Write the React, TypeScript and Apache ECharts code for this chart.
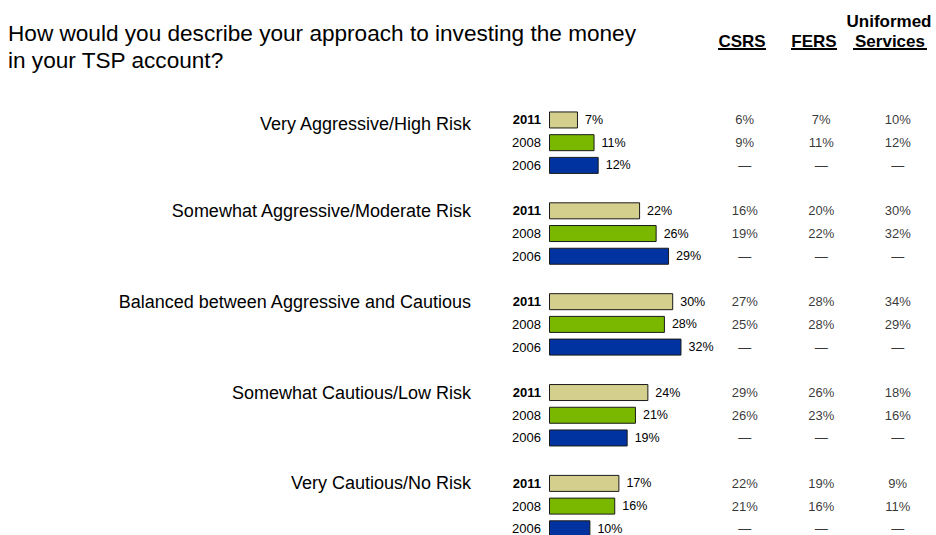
import React, { useEffect, useRef } from "react";
import * as echarts from "echarts";

const FONT = "'Liberation Sans', Arial, Helvetica, sans-serif";

const groups = [
  "Very Aggressive/High Risk",
  "Somewhat Aggressive/Moderate Risk",
  "Balanced between Aggressive and Cautious",
  "Somewhat Cautious/Low Risk",
  "Very Cautious/No Risk",
];
const years = ["2011", "2008", "2006"];

const total2011 = [7, 22, 30, 24, 17];
const total2008 = [11, 26, 28, 21, 16];
const total2006 = [12, 29, 32, 19, 10];

const columns = ["CSRS", "FERS", "Uniformed Services"];
const csrs2011 = [6, 16, 27, 29, 22];
const csrs2008 = [9, 19, 25, 26, 21];
const fers2011 = [7, 20, 28, 26, 19];
const fers2008 = [11, 22, 28, 23, 16];
const us2011 = [10, 30, 34, 18, 9];
const us2008 = [12, 32, 29, 16, 11];

const yearColors: Record<string, string> = {
  "2011": "#D5CF8E",
  "2008": "#7AB800",
  "2006": "#0033A0",
};

// Build row keys: 3 year rows + 1 gap row per group
const rowKeys: string[] = [];
groups.forEach((_, gi) => {
  years.forEach((y) => rowKeys.push(`${gi}-${y}`));
  rowKeys.push(`${gi}-gap`);
});

const barValues: Record<string, number[]> = {
  "2011": total2011,
  "2008": total2008,
  "2006": total2006,
};

function barData(year: string) {
  return rowKeys.map((k) => {
    const [gi, y] = k.split("-");
    if (y !== year) return "-";
    return barValues[year][Number(gi)];
  });
}

function tableData(col: number, v2011: number[], v2008: number[]) {
  const out: any[] = [];
  rowKeys.forEach((k, ri) => {
    const [gi, y] = k.split("-");
    const g = Number(gi);
    if (y === "2011") out.push([col, ri, `${v2011[g]}%`]);
    else if (y === "2008") out.push([col, ri, `${v2008[g]}%`]);
    else if (y === "2006") out.push([col, ri, "\u2014"]);
  });
  return out;
}

export default function App() {
  const ref = useRef<HTMLDivElement>(null);
  useEffect(() => {
    if (!ref.current) return;
    const chart = echarts.init(ref.current, null, { renderer: "svg" });
    const gridTop = 108.6;
    const gridHeight = 454.3;

    const catAxisBase = {
      type: "category",
      data: rowKeys,
      inverse: true,
      axisLine: { show: false },
      axisTick: { show: false },
      splitLine: { show: false },
    };

    const option: any = {
      animation: false,
      backgroundColor: "#ffffff",
      title: {
        text: "How would you describe your approach to investing the money\nin your TSP account?",
        left: 8,
        top: 20,
        padding: 0,
        textStyle: {
          fontFamily: FONT,
          fontSize: 22.6,
          fontWeight: "normal",
          color: "#000",
          lineHeight: 27,
        },
      },
      grid: [
        { left: 549, top: gridTop, width: 165.6, height: gridHeight },
        { left: 706.5, top: gridTop, width: 237, height: gridHeight },
      ],
      xAxis: [
        { type: "value", gridIndex: 0, min: 0, max: 40, show: false },
        { type: "category", gridIndex: 1, data: columns, show: false },
      ],
      yAxis: [
        {
          ...catAxisBase,
          gridIndex: 0,
          position: "left",
          axisLabel: {
            margin: 8,
            fontFamily: FONT,
            fontSize: 13,
            color: "#000",
            textBorderWidth: 0,
            formatter: (val: string) => {
              const y = val.split("-")[1];
              if (y === "gap") return "";
              if (y === "2011") return "{b|2011}";
              return y;
            },
            rich: {
              b: { fontFamily: FONT, fontSize: 13, fontWeight: "bold", color: "#000" },
            },
          },
        },
        {
          ...catAxisBase,
          gridIndex: 0,
          position: "left",
          offset: 70,
          axisLabel: {
            margin: 8,
            fontFamily: FONT,
            fontSize: 18,
            color: "#000",
            formatter: (val: string) => {
              const [gi, y] = val.split("-");
              if (y !== "2011") return "";
              return Number(gi) === 0 ? `{d|${groups[0]}}` : groups[Number(gi)];
            },
            rich: {
              d: { fontFamily: FONT, fontSize: 18, color: "#000", padding: [8, 0, 0, 0] },
            },
          },
        },
        {
          ...catAxisBase,
          gridIndex: 1,
          show: false,
        },
      ],
      series: [
        ...years.map((y) => ({
          type: "bar",
          name: y,
          xAxisIndex: 0,
          yAxisIndex: 0,
          data: barData(y),
          barWidth: 17,
          barGap: "-100%",
          silent: true,
          itemStyle: { color: yearColors[y], borderColor: "#1a1a1a", borderWidth: 1 },
          label: {
            show: true,
            position: "right",
            distance: 7,
            formatter: "{c}%",
            fontFamily: FONT,
            fontSize: 12.5,
            fontWeight: "normal",
            color: "#000",
            textBorderWidth: 0,
          },
        })),
        ...[
          tableData(0, csrs2011, csrs2008),
          tableData(1, fers2011, fers2008),
          tableData(2, us2011, us2008),
        ].map((d, i) => ({
          type: "scatter",
          name: columns[i],
          xAxisIndex: 1,
          yAxisIndex: 2,
          data: d,
          symbolSize: 1,
          silent: true,
          itemStyle: { color: "rgba(0,0,0,0)" },
          label: {
            show: true,
            position: "inside",
            formatter: (p: any) => p.value[2],
            fontFamily: FONT,
            fontSize: 13,
            fontWeight: "normal",
            color: "#000",
            textBorderWidth: 0,
            align: "center",
          },
        })),
      ],
      graphic: [
        {
          type: "text",
          x: 889,
          y: 21,
          silent: true,
          style: {
            text: "Uniformed",
            font: `bold 17px ${FONT}`,
            fill: "#000",
            align: "center",
            verticalAlign: "middle",
          },
        },
        ...[
          { t: "CSRS", cx: 742, x1: 718, x2: 766 },
          { t: "FERS", cx: 814, x1: 791, x2: 837 },
          { t: "Services", cx: 890, x1: 853, x2: 927 },
        ].flatMap((h) => [
          {
            type: "text",
            x: h.cx,
            y: 41,
            silent: true,
            style: {
              text: h.t,
              font: `bold 17px ${FONT}`,
              fill: "#000",
              align: "center",
              verticalAlign: "middle",
            },
          },
          {
            type: "line",
            silent: true,
            shape: { x1: h.x1, y1: 49, x2: h.x2, y2: 49 },
            style: { stroke: "#000", lineWidth: 2 },
          },
        ]),
      ],
    };
    chart.setOption(option);
    return () => chart.dispose();
  }, []);
  return (
    <div
      style={{ position: "fixed", left: 0, top: 0, width: 936, height: 535, overflow: "hidden", background: "#fff" }}
    >
      <div ref={ref} style={{ width: 936, height: 580 }} />
    </div>
  );
}
